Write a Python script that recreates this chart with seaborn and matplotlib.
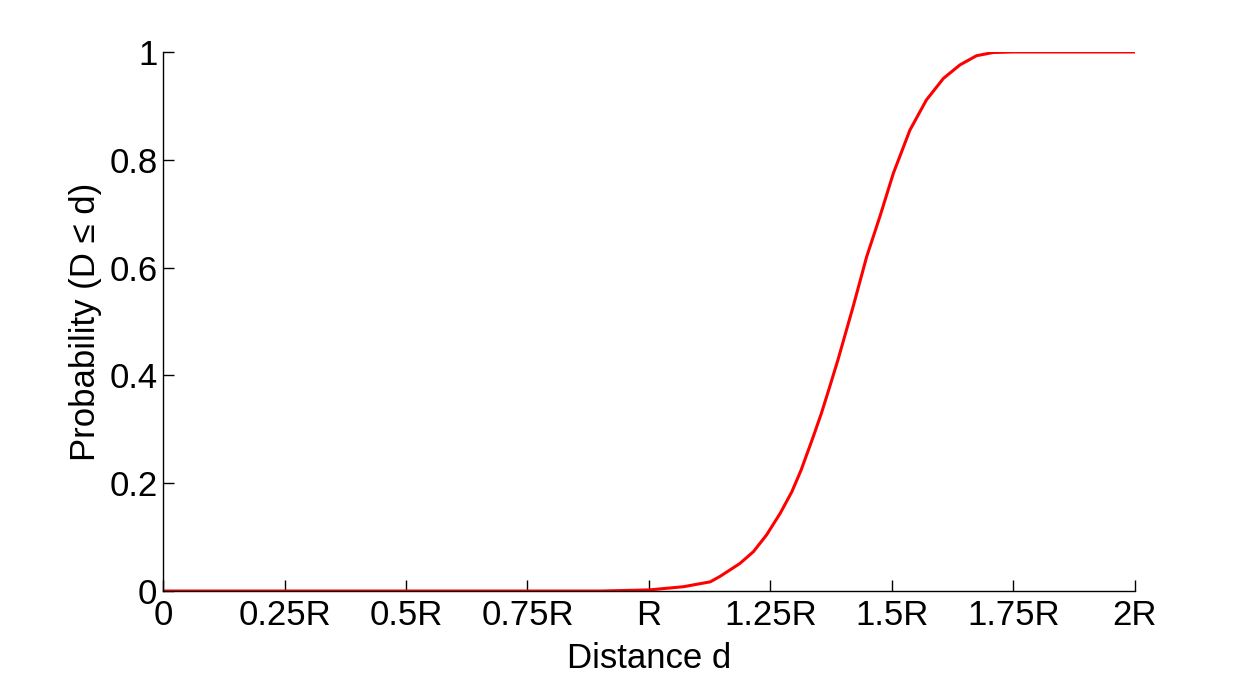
import matplotlib
matplotlib.use("Agg")
import matplotlib.pyplot as plt
import seaborn as sns
import pandas as pd

# distance in units of R
distance = [0.0, 0.5, 0.9, 1.0, 1.071, 1.126, 1.146, 1.187, 1.215, 1.242, 1.270,
            1.294, 1.313, 1.338, 1.355, 1.372, 1.389, 1.420, 1.448, 1.475, 1.503,
            1.537, 1.571, 1.606, 1.640, 1.674, 1.708, 1.75, 2.0]
probability = [0.0, 0.0, 0.0, 0.002, 0.008, 0.017, 0.027, 0.051, 0.073, 0.104, 0.144,
               0.184, 0.224, 0.286, 0.330, 0.379, 0.429, 0.527, 0.620, 0.694, 0.775,
               0.855, 0.911, 0.951, 0.976, 0.993, 0.999, 1.0, 1.0]

x_ticks = [0, 0.25, 0.5, 0.75, 1.0, 1.25, 1.5, 1.75, 2.0]
x_tick_labels = ["0", "0.25R", "0.5R", "0.75R", "R", "1.25R", "1.5R", "1.75R", "2R"]
y_ticks = [0, 0.2, 0.4, 0.6, 0.8, 1.0]
y_tick_labels = ["0", "0.2", "0.4", "0.6", "0.8", "1"]

df = pd.DataFrame({"d": distance, "p": probability})

sns.set_style("ticks")
plt.rcParams['font.family'] = ['Liberation Sans', 'DejaVu Sans']
plt.rcParams['text.color'] = 'black'
plt.rcParams['axes.labelcolor'] = 'black'
plt.rcParams['xtick.color'] = 'black'
plt.rcParams['ytick.color'] = 'black'

fig = plt.figure(figsize=(12.54, 6.82), dpi=100)
ax = fig.add_axes([0.13, 0.1334, 0.775, 0.7904])

sns.lineplot(data=df, x="d", y="p", ax=ax, color="red", linewidth=2.2)

ax.set_xlim(0, 2)
ax.set_ylim(0, 1)
ax.set_xticks(x_ticks)
ax.set_xticklabels(x_tick_labels)
ax.set_yticks(y_ticks)
ax.set_yticklabels(y_tick_labels)
ax.tick_params(direction="in", length=8, width=1, labelsize=25, color="black", labelcolor="black")
ax.tick_params(axis="x", pad=6)
ax.tick_params(axis="y", pad=4)
ax.set_xlabel("Distance d", fontsize=25, labelpad=7, color="black")
ax.set_ylabel("Probability (D ≤ d)", fontsize=25, labelpad=5, color="black")

for side in ["top", "right"]:
    ax.spines[side].set_visible(False)
for side in ["left", "bottom"]:
    ax.spines[side].set_color("black")
    ax.spines[side].set_linewidth(1)

fig.savefig("out.png", dpi=100, facecolor="white")
